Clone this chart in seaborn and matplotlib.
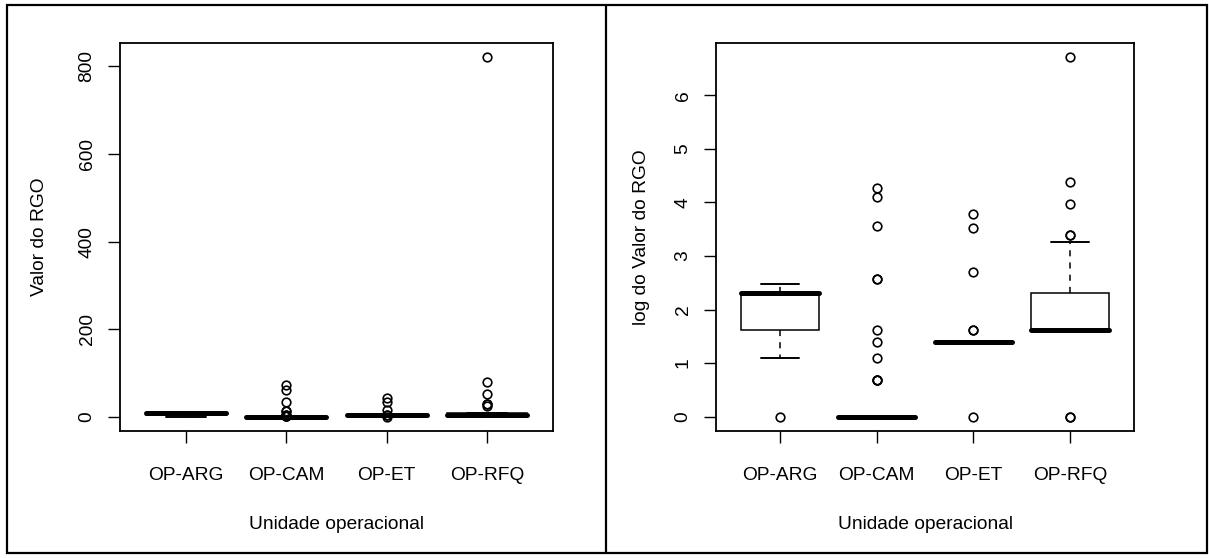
import numpy as np
import pandas as pd
import seaborn as sns
import matplotlib
matplotlib.use("Agg")
import matplotlib.pyplot as plt
from matplotlib.patches import Rectangle
from matplotlib.lines import Line2D

# RGO values per operational unit, stored as distinct values and their counts
units = ["OP-ARG", "OP-CAM", "OP-ET", "OP-RFQ"]

arg_values = [1, 3, 5, 10, 12]
arg_counts = [1, 1, 2, 5, 1]

cam_values = [1, 2, 3, 4, 5, 13, 35, 61, 72]
cam_counts = [40, 3, 1, 1, 1, 2, 1, 1, 1]

et_values = [1, 4, 5, 15, 34, 44]
et_counts = [1, 25, 2, 1, 1, 1]

rfq_values = [1, 5, 6, 7, 8, 9, 10, 26, 30, 53, 80, 820]
rfq_counts = [2, 11, 1, 1, 2, 1, 1, 1, 2, 1, 1, 1]

left_yticks = [0, 200, 400, 600, 800]
right_yticks = [0, 1, 2, 3, 4, 5, 6]

groups = {
    "OP-ARG": (arg_values, arg_counts),
    "OP-CAM": (cam_values, cam_counts),
    "OP-ET": (et_values, et_counts),
    "OP-RFQ": (rfq_values, rfq_counts),
}

frames = []
for unit, (vals, cnts) in groups.items():
    frames.append(pd.DataFrame({"unidade": unit, "valor": np.repeat(vals, cnts)}))
df = pd.concat(frames, ignore_index=True)
df["log_valor"] = np.log(df["valor"])

sns.set_theme(style="ticks")
plt.rcParams["font.family"] = ["Liberation Sans", "DejaVu Sans"]
FS = 13.8

fig = plt.figure(figsize=(12.09, 5.58), dpi=100)
ax1 = fig.add_axes([120 / 1209, 1 - 431 / 558, 433 / 1209, 388 / 558])
ax2 = fig.add_axes([716 / 1209, 1 - 431 / 558, 418 / 1209, 388 / 558])

box_kw = dict(
    order=units,
    color="white",
    linecolor="black",
    linewidth=1.1,
    width=0.8,
    whis=1.5,
    fliersize=6.2,
    flierprops=dict(marker="o", markerfacecolor="none", markeredgecolor="black",
                    markeredgewidth=1.2),
    medianprops=dict(color="black", linewidth=3.6, solid_capstyle="round"),
    whiskerprops=dict(color="black", linestyle=(0, (4, 4)), linewidth=1.1),
    capprops=dict(color="black", linewidth=1.4),
    boxprops=dict(edgecolor="black", facecolor="white", linewidth=1.1),
)

sns.boxplot(data=df, x="unidade", y="valor", ax=ax1, **box_kw)
sns.boxplot(data=df, x="unidade", y="log_valor", ax=ax2, **box_kw)


def expanded(lo, hi, frac=0.04):
    span = hi - lo
    return lo - frac * span, hi + frac * span


for ax, col, yticks, ylabel in [
    (ax1, "valor", left_yticks, "Valor do RGO"),
    (ax2, "log_valor", right_yticks, "log do Valor do RGO"),
]:
    ax.set_ylim(*expanded(df[col].min(), df[col].max()))
    ax.set_xlim(-0.66, 3.66)
    ax.set_yticks(yticks)
    ax.set_yticklabels([str(t) for t in yticks], rotation=90, va="center", ha="right",
                       fontsize=FS)
    ax.set_xticks(range(len(units)))
    ax.set_xticklabels(units, fontsize=FS)
    ax.tick_params(axis="y", direction="out", length=8.6, width=1.0, pad=9,
                   color="black", labelcolor="black", left=True)
    ax.tick_params(axis="x", direction="out", length=8.6, width=1.0, pad=17.5,
                   color="black", labelcolor="black", bottom=True)
    for s in ax.spines.values():
        s.set_visible(True)
        s.set_color("black")
        s.set_linewidth(1.3)
    ax.set_xlabel("Unidade operacional", fontsize=FS, color="black")
    ax.set_ylabel(ylabel, fontsize=FS, color="black")
    ax.xaxis.set_label_coords(0.5, -0.219)

ax1.yaxis.set_label_coords((48 - 120) / 433, 0.5)
ax2.yaxis.set_label_coords((650 - 716) / 418, 0.5)

# outer frame around both panels and the divider between them
fig.add_artist(Rectangle((6.5 / 1209, 1 - 553 / 558), 1200 / 1209, 548 / 558,
                         transform=fig.transFigure, fill=False, edgecolor="black",
                         linewidth=1.6))
fig.add_artist(Line2D([606 / 1209, 606 / 1209], [1 - 553 / 558, 1 - 5 / 558],
                      transform=fig.transFigure, color="black", linewidth=1.6))

fig.savefig("out.png", dpi=100, facecolor="white")
